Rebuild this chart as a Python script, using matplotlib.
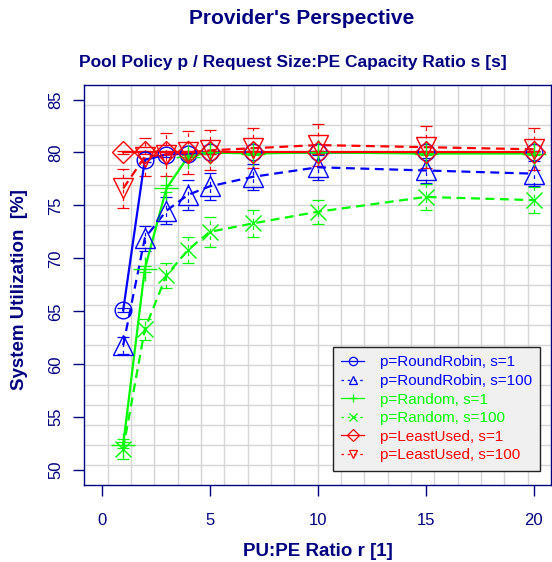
"""
    plot.py
        -- provider's perspective: system utilization vs PU:PE ratio
"""
import matplotlib

matplotlib.use("Agg")
import matplotlib.pyplot as plt
from matplotlib.lines import Line2D

plt.rcParams["font.family"] = ["Liberation Sans", "DejaVu Sans"]

NAVY = "#000080"

# PU:PE ratio r
ratios = [1, 2, 3, 4, 5, 7, 10, 15, 20]

# system utilization [%] and confidence interval half widths
rr_s1 = [65.1, 79.3, 79.8, 79.9, 80.0, 80.0, 80.0, 80.0, 80.0]
rr_s1_err = [0.2, 0.2, 0.2, 0.1, 0.1, 0.1, 0.1, 0.1, 0.1]
rr_s100 = [61.8, 71.9, 74.5, 76.0, 76.8, 77.7, 78.6, 78.3, 78.0]
rr_s100_err = [0.8, 1.2, 1.3, 1.4, 1.3, 1.2, 1.2, 1.2, 1.2]
rnd_s1 = [52.4, 69.0, 76.6, 79.6, 80.0, 79.9, 80.0, 79.9, 79.9]
rnd_s1_err = [0.3, 0.3, 0.3, 0.2, 0.1, 0.1, 0.1, 0.1, 0.1]
rnd_s100 = [52.0, 63.3, 68.4, 70.8, 72.5, 73.3, 74.4, 75.8, 75.5]
rnd_s100_err = [0.9, 1.0, 1.2, 1.2, 1.4, 1.25, 1.15, 1.2, 1.2]
lu_s1 = [80.0, 80.0, 80.0, 80.0, 80.0, 80.0, 80.0, 80.0, 80.0]
lu_s1_err = [0.1, 0.1, 0.1, 0.1, 0.1, 0.1, 0.1, 0.1, 0.1]
lu_s100 = [76.6, 79.6, 79.8, 80.0, 80.2, 80.4, 80.7, 80.5, 80.3]
lu_s100_err = [1.8, 1.8, 2.0, 2.0, 1.9, 1.9, 2.0, 2.0, 2.0]

labels = [
    "p=RoundRobin, s=1",
    "p=RoundRobin, s=100",
    "p=Random, s=1",
    "p=Random, s=100",
    "p=LeastUsed, s=1",
    "p=LeastUsed, s=100",
]

series = [
    (rr_s1, rr_s1_err, "#0000ff", "-", "o", 12),
    (rr_s100, rr_s100_err, "#0000ff", "--", "^", 14),
    (rnd_s1, rnd_s1_err, "#00ff00", "-", "+", 17),
    (rnd_s100, rnd_s100_err, "#00ff00", "--", "x", 12),
    (lu_s1, lu_s1_err, "#ff0000", "-", "D", 11.5),
    (lu_s100, lu_s100_err, "#ff0000", "--", "v", 14),
]


def main():
    fig = plt.figure(figsize=(5.52, 5.62), dpi=100)
    ax = fig.add_axes([84.3 / 552, 1 - 485 / 562, (551 - 84.3) / 552, (485 - 84.7) / 562])

    ax.set_xlim(-0.8, 20.8)
    ax.set_ylim(48.6, 86.4)

    # R-style grid: 20 equal divisions of the plot region
    for i in range(1, 20):
        ax.axvline(-0.8 + i * 21.6 / 20, color="#d6d6d6", lw=1.0, zorder=0)
        ax.axhline(48.6 + i * 37.8 / 20, color="#d6d6d6", lw=1.0, zorder=0)

    handles = []
    for (vals, err, color, ls, marker, ms), label in zip(series, labels):
        eb = ax.errorbar(ratios, vals, yerr=err, fmt="none", ecolor=color,
                         elinewidth=0.9, capsize=4.5, capthick=0.9, zorder=2)
        if ls == "--":
            eb[2][0].set_linestyle((0, (3, 3)))
        ax.plot(ratios, vals, color=color, ls=ls, lw=1.6,
                dashes=(4, 2.5) if ls == "--" else (None, None), zorder=3)
        ax.plot(ratios, vals, ls="none", marker=marker, ms=ms, mfc="none",
                mec=color, mew=1.0, zorder=4)
        handles.append(Line2D([], [], color=color, ls=ls, lw=0.9, marker=marker,
                              ms=6, mfc="none", mec=color, mew=0.9,
                              dashes=(2, 3) if ls == "--" else (None, None)))

    ax.set_xticks([0, 5, 10, 15, 20])
    ax.set_yticks([50, 55, 60, 65, 70, 75, 80, 85])
    ax.tick_params(axis="both", colors=NAVY, length=8, width=1, labelsize=12, labelcolor=NAVY)
    ax.tick_params(axis="x", pad=12)
    ax.tick_params(axis="y", pad=7)
    for lab in ax.get_yticklabels():
        lab.set_rotation(90)
        lab.set_va("center")
    for side in ax.spines.values():
        side.set_color(NAVY)
        side.set_linewidth(1.0)

    leg = ax.legend(handles, labels, loc="upper left",
                    bbox_to_anchor=(333 / 552, 1 - 347 / 562),
                    bbox_transform=fig.transFigure, fontsize=11,
                    handlelength=1.5, handletextpad=1.0, labelspacing=0.3,
                    borderpad=0.55, borderaxespad=0, fancybox=False,
                    framealpha=1, facecolor="#f0f0f0", edgecolor="#222222")
    leg.get_frame().set_linewidth(1.0)
    for txt, (_, _, color, _, _, _) in zip(leg.get_texts(), series):
        txt.set_color(color)

    fig.text(302 / 552, 1 - 18 / 562, "Provider's Perspective", ha="center",
             va="center", fontsize=15, fontweight="bold", color=NAVY)
    fig.text(293 / 552, 1 - 63 / 562,
             "Pool Policy p / Request Size:PE Capacity Ratio s [s]",
             ha="center", va="center", fontsize=12.5, fontweight="bold", color=NAVY)
    fig.text(318 / 552, 1 - 551 / 562, "PU:PE Ratio r [1]", ha="center",
             va="center", fontsize=13.5, fontweight="bold", color=NAVY)
    fig.text(19.5 / 552, 1 - 290 / 562, "System Utilization  [%]", ha="center",
             va="center", rotation=90, fontsize=13.5, fontweight="bold", color=NAVY)

    fig.savefig("out.png", dpi=100)
    plt.close("all")


if __name__ == "__main__":
    main()
